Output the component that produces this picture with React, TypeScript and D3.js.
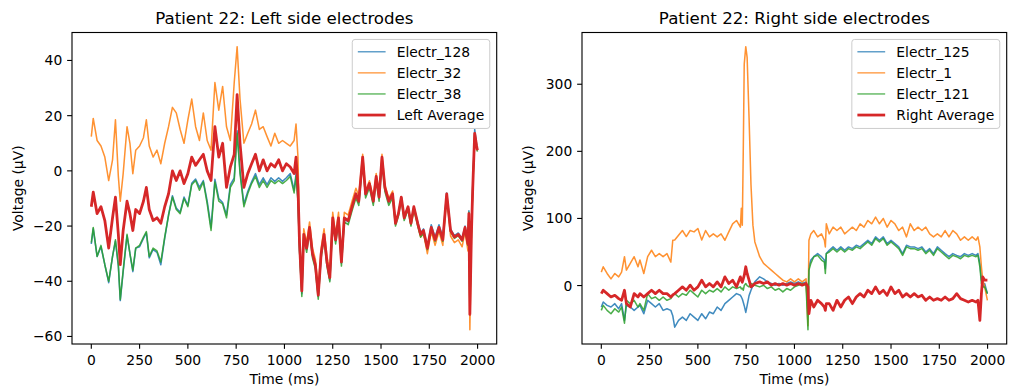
import React from "react";
import * as d3 from "d3";

// ---------------- DATA ----------------
const X_TICKS = [0, 250, 500, 750, 1000, 1250, 1500, 1750, 2000];
const LEFT_Y_TICKS = [-60, -40, -20, 0, 20, 40];
const RIGHT_Y_TICKS = [0, 100, 200, 300];

const LEFT_TIME = [
  0, 10, 30, 50, 70, 90, 110, 125, 140, 150,
  165, 185, 200, 215, 230, 250, 270, 285, 300, 320,
  340, 360, 380, 400, 420, 440, 460, 480, 500, 520,
  540, 560, 580, 600, 620, 640, 660, 680, 700, 720,
  740, 755, 770, 790, 810, 830, 850, 870, 890, 910,
  930, 950, 970, 990, 1010, 1030, 1050, 1060, 1070, 1078,
  1090, 1100, 1115, 1130, 1145, 1160, 1175, 1190, 1205, 1220,
  1235, 1250, 1265, 1280, 1295, 1310, 1330, 1350, 1370, 1385,
  1405, 1420, 1440, 1460, 1475, 1490, 1505, 1520, 1540, 1560,
  1575, 1590, 1605, 1620, 1640, 1655, 1670, 1690, 1705, 1720,
  1740, 1760, 1780, 1800, 1820, 1840, 1860, 1880, 1900, 1920,
  1935, 1950, 1955, 1960, 1968, 1975, 1985, 1995, 1999,
];

const LEFT_E128 = [
  -26.5, -21, -31, -27.5, -34, -40.5, -31, -25.5, -34.5, -47,
  -36.5, -23.5, -30, -36.5, -28, -27.5, -24.5, -22.5, -31.5, -28.5,
  -29.5, -34, -24.5, -16, -9, -13.5, -15, -9.5, -12.5, -4.5,
  -3, -6, -3.5, -11, -20.5, -3, -10, -11.5, -16, -5,
  -2.5, 14.5, 0, -12, -7.5, -4, -1, -5, -2.5, -5,
  -2.5, -3.8, -2.5, -3.8, -2.5, -1, -7, -1, -10, -28.5,
  -44.5, -23.5, -28.5, -21, -30.5, -34.5, -45.5, -30.5, -23.5, -33.5,
  -39.5, -17.5, -25.5, -17.5, -33.5, -17.5, -18.5, -13.5, -8.8, -11.5,
  4.5, -8.8, -5, -11.5, -2.5, -10, 4.5, -6.5, -11.5, -8.8,
  -19, -15.5, -9.5, -16.5, -13, -19, -13, -18.5, -22.5, -21,
  -27.5, -19.5, -24, -19.5, -24, -8, -21, -23.5, -22.5, -24.5,
  -20, -26, -14.5, -49.5, -22, -5, 15, 9.5, 8,
];

const LEFT_E32 = [
  12.4, 19, 11, 9, 5, -3.5, 4, 18.5, -2, -11,
  -1, 16, 10, -1, 7.5, 9, 12, 18.5, 9, 5,
  7.5, 2.6, 10, 16, 23, 21, 15, 10, 18.5, 26,
  16, 11, 21, 11, 7.5, 32, 22, 30.6, 16, 11,
  32, 45, 26, 10, 13.6, 17, 22, 15, 16, 12.4,
  9, 13.6, 10, 11, 10, 9, 11, 17, 5, -24,
  -41.5, -21, -26, -18.5, -28, -32, -43, -28, -21, -31,
  -36.7, -15, -23, -15, -31, -15, -16, -11, -6.3, -9,
  6, -7.3, -3.6, -10, -1, -8.5, 6, -5, -10, -7.3,
  -19, -15.5, -9.5, -17, -13, -19.5, -13.5, -19.5, -24, -22.6,
  -30, -22, -27, -22, -27, -9, -23.6, -26, -25, -27.5,
  -22, -29, -16, -57.6, -24, -6.5, 13.6, 9, 7.5,
];

const LEFT_E38 = [
  -26, -20.5, -31, -27, -34, -40, -31, -25, -34, -46.6,
  -36, -23, -30, -36, -28, -27, -24, -22, -31, -28,
  -29, -33, -24, -16, -9.5, -14, -15.5, -10, -13, -5,
  -3.5, -7, -4, -12, -21.6, -4, -11, -12, -17, -6,
  -3.5, 13.6, -1, -13, -8.3, -4.6, -2, -6, -3.5, -6,
  -3.5, -4.6, -3.5, -4.6, -3.5, -2, -8, -2, -11, -29,
  -45.5, -24.5, -29.5, -22, -31.5, -35.5, -46.5, -31.5, -24.5, -34.5,
  -40.2, -18.5, -26.5, -18.5, -34.5, -18.5, -19.5, -14.5, -9.8, -12.5,
  3.5, -9.8, -6.1, -12.5, -3.5, -11, 3.5, -7.5, -12.5, -9.8,
  -20, -16.5, -10.5, -18, -14, -20, -14, -20, -24, -22.6,
  -28.5, -21, -25.5, -21, -25.5, -9, -22, -24.5, -23.5, -25.5,
  -21, -27, -15, -50.5, -22.5, -5.5, 13, 8.5, 7,
];

const LEFT_AVG = [
  -13, -7.7, -15.5, -13, -18, -28, -17, -9.5, -23, -34,
  -21.6, -11, -15.5, -21.6, -14, -15.5, -11, -6, -14, -18,
  -17, -19, -13, -8.3, 0, -3.5, 0, -4.6, -1, 5,
  2, 4, 6, 0, -3.5, 16, 5, 10, -6, 1.4,
  6, 27.6, 10, -6, -1, 2.6, 6, 0, 4, 0,
  2.6, 1.4, 4, 0, 2.6, 1.4, -1, 5, -6, -26,
  -43.5, -23, -28, -20.5, -30, -34, -45, -30, -23, -33,
  -38.7, -17, -25, -17, -33, -17, -18, -13, -8.3, -11,
  5, -8.3, -4.6, -11, -2, -9.5, 5, -6, -11, -8.3,
  -19, -15.5, -9.5, -17, -13, -19, -13, -19, -23, -21.6,
  -28, -20.5, -25, -20.5, -25, -8.3, -21.6, -24, -23, -25,
  -20.5, -26.5, -15.5, -52, -23, -6, 13.6, 9, 7.5,
];

const RIGHT_TIME = [
  0, 10, 30, 50, 70, 90, 105, 120, 130, 150,
  170, 190, 200, 220, 240, 260, 280, 300, 320, 340,
  360, 370, 380, 400, 420, 440, 460, 480, 500, 520,
  540, 560, 580, 600, 620, 640, 660, 680, 700, 720,
  725, 730, 735, 740, 748, 755, 765, 775, 785, 795,
  820, 840, 860, 880, 900, 920, 940, 960, 980, 1000,
  1020, 1040, 1060, 1070, 1075, 1085, 1100, 1120, 1140, 1155,
  1160, 1165, 1180, 1200, 1220, 1240, 1260, 1280, 1300, 1320,
  1340, 1360, 1380, 1400, 1420, 1440, 1460, 1480, 1500, 1520,
  1540, 1560, 1580, 1600, 1620, 1640, 1660, 1680, 1700, 1720,
  1740, 1760, 1780, 1800, 1820, 1840, 1860, 1880, 1900, 1920,
  1940, 1950, 1960, 1968, 1975, 1985, 1999,
];

const RIGHT_E125 = [
  -32, -24.5, -29.5, -32, -27, -34.5, -27, -52, -29.5, -32,
  -37, -32, -29.5, -42, -22, -27, -32, -27, -37, -34.5,
  -37, -45, -62, -52, -47, -52, -42, -47, -52, -42,
  -49.5, -39.5, -42, -32, -37, -27, -22, -17, -12, -14.5,
  -17, -20, -25, -30, -40, -30, -15, -7, 0, 5.5,
  13, 10, 5.5, 3, 0.5, 3, 0.5, 3, 5.5, 3,
  5.5, 3, 5.5, -40, 28, 38, 43, 47.6, 43, 38,
  25, 47.6, 52.6, 57.6, 52.6, 57.6, 52.6, 57.6, 55, 60,
  57.6, 62.5, 67.5, 62.5, 72.5, 67.5, 72.5, 62.5, 67.5, 62.5,
  57.6, 47.6, 60, 57.6, 57.6, 55, 57.6, 50, 55, 47.6,
  57.6, 52.6, 47.6, 43, 47.6, 45, 43, 47.6, 45, 47.6,
  45, 47.6, 33, 8, -2, 3, -12,
];

const RIGHT_E1 = [
  20, 28, 18, 10, 18, 13, 20, 43, 23, 33,
  43, 28, 38, 18, 43, 52.6, 43, 47.6, 43, 47.6,
  35, 67.5, 68, 75, 82, 73, 82, 80, 85, 68,
  82, 72.5, 77, 72.5, 77, 67.5, 80, 92, 97, 87,
  115, 90, 200, 330, 356, 340, 250, 150, 90, 65,
  43, 33, 28, 23, 18, 13, 8, 5.5, 10, 5.5,
  10, 5.5, 10, -60, 67.5, 77, 82, 72.5, 77, 67.5,
  57.6, 92, 77, 87, 82, 87, 77, 82, 87, 82,
  92, 87, 97, 92, 102, 92, 100, 87, 97, 92,
  82, 87, 72.5, 92, 82, 87, 82, 87, 77, 72.5,
  77, 72.5, 82, 72.5, 82, 77, 67.5, 72.5, 67.5, 72.5,
  67.5, 72.5, 57.6, 28, 8, -2, -22,
];

const RIGHT_E121 = [
  -37, -29.5, -37, -42, -34.5, -39.5, -32, -56, -22, -27,
  -22, -32, -27, -37, -12, -19.5, -17, -22, -17, -22,
  -19.5, -15, -12, -17, -12, -14.5, -7, -12, -17, -7,
  -12, -7, -9.5, -4.5, -9.5, -2, -7, -2, -4.5, -2,
  -5, -4, -7, 0, 3, 0, -2, 3, 2, 0.5,
  -2, 0.5, -4.5, -2, -7, -4.5, -9.5, -4.5, -7, -2,
  0.5, 3, 0.5, -66, 23, 33, 43, 45, 38, 35,
  18, 47.6, 50, 55, 50, 55, 50, 55, 52.6, 57.6,
  55, 60, 65, 60, 70, 65, 70, 60, 65, 60,
  55, 45, 57.6, 55, 55, 52.6, 55, 47.6, 52.6, 45,
  55, 50, 45, 40, 45, 43, 40, 45, 43, 45,
  43, 45, 28, 3, -2, -2, -12,
];

const RIGHT_AVG = [
  -12, -7, -12, -17, -14.5, -19.5, -22, -7, -27, -32,
  -12, -17, -12, -17, -12, -7, -12, -7, -12, -12,
  -17, -14, -12, -7, -2, -7, 0.5, -7, -2, 8,
  -2, 3, -2, 5.5, -2, 13, 3, 8, -2, 13,
  8, 5, 10, 15, 28, 18, 8, -2, 0, 3,
  5.5, 3, 5.5, 0.5, 3, 0.5, 3, 0.5, 3, 0.5,
  3, 0.5, 3, -2, -42, -22, -32, -22, -27, -32,
  -37, -27, -27, -37, -22, -32, -22, -17, -27, -17,
  -12, -17, -7, -12, -2, -12, -7, -14.5, -2, -12,
  -7, -17, -12, -17, -12, -17, -14.5, -22, -17, -22,
  -19.5, -22, -17, -22, -19.5, -12, -19.5, -22, -24.5, -22,
  -24.5, -22, -52, -12, 13, 8, 8,
];

// ---------------- STYLE ----------------
const PT = 100 / 72;
const FONT = "'DejaVu Sans', 'Liberation Sans', sans-serif";
const TICK_FS = 10 * PT;
const TITLE_FS = 12 * PT;
const TOP = 32.5;
const BOTTOM = 344;
const AX_W = 424.7;

const COLORS = { blue: "#1f77b4", orange: "#ff7f0e", green: "#2ca02c", red: "#d62728" };

function measureText(text: string, size: number) {
  try {
    const ctx = document.createElement("canvas").getContext("2d");
    if (ctx) {
      ctx.font = `${size}px 'DejaVu Sans'`;
      return ctx.measureText(text).width;
    }
  } catch (e) {}
  return text.length * size * 0.6;
}

type Series = {
  values: number[];
  color: string;
  width: number;
  opacity: number;
  legendOpacity: number;
  label: string;
};

function Panel(props: {
  x0: number;
  times: number[];
  series: Series[];
  yTicks: number[];
  title: string;
}) {
  const { x0, times, series, yTicks, title } = props;
  const x1 = x0 + AX_W;
  const [tMin, tMax] = d3.extent(times) as [number, number];
  const tPad = (tMax - tMin) * 0.05;
  const x = d3.scaleLinear().domain([tMin - tPad, tMax + tPad]).range([x0, x1]);
  const all = series.flatMap((s) => s.values);
  const [vMin, vMax] = d3.extent(all) as [number, number];
  const vPad = (vMax - vMin) * 0.05;
  const y = d3.scaleLinear().domain([vMin - vPad, vMax + vPad]).range([BOTTOM, TOP]);

  const line = (vals: number[]) =>
    d3
      .line<number>()
      .x((_, i) => x(times[i]))
      .y((v) => y(v))(vals) as string;

  const tickLen = 3.5 * PT;
  const pad = 3.5 * PT;
  const fmt = (v: number) => String(v).replace("-", "\u2212");

  // legend
  const fs = TICK_FS;
  const textW = Math.max(...series.map((s) => measureText(s.label, fs)));
  const legW = 0.4 * fs + 2 * fs + 0.8 * fs + textW + 0.4 * fs;
  const legH = 89;
  const legX = x1 - 0.5 * fs - legW;
  const legY = TOP + 0.5 * fs;
  const rowStep = 21.1;
  const firstRow = legY + 12.3;

  const cx = (x0 + x1) / 2;
  const cy = (TOP + BOTTOM) / 2;

  return (
    <g>
      <defs>
        <clipPath id={`clip${x0}`}>
          <rect x={x0} y={TOP} width={AX_W} height={BOTTOM - TOP} />
        </clipPath>
      </defs>
      <g clipPath={`url(#clip${x0})`}>
        {series.map((s, i) => (
          <path
            key={i}
            d={line(s.values)}
            fill="none"
            stroke={s.color}
            strokeWidth={s.width}
            strokeOpacity={s.opacity}
            strokeLinejoin="round"
            strokeLinecap="butt"
          />
        ))}
      </g>
      {/* spines */}
      <rect x={x0} y={TOP} width={AX_W} height={BOTTOM - TOP} fill="none" stroke="#000" strokeWidth={0.8 * PT} />
      {/* x ticks */}
      {X_TICKS.map((t) => (
        <g key={t}>
          <line x1={x(t)} x2={x(t)} y1={BOTTOM} y2={BOTTOM + tickLen} stroke="#000" strokeWidth={0.8 * PT} />
          <text x={x(t)} y={365} fontSize={TICK_FS} fontFamily={FONT} textAnchor="middle" fill="#000">
            {fmt(t)}
          </text>
        </g>
      ))}
      {/* y ticks */}
      {yTicks.map((v) => (
        <g key={v}>
          <line x1={x0 - tickLen} x2={x0} y1={y(v)} y2={y(v)} stroke="#000" strokeWidth={0.8 * PT} />
          <text
            x={x0 - tickLen - pad}
            y={y(v) + 5}
            fontSize={TICK_FS}
            fontFamily={FONT}
            textAnchor="end"
            fill="#000"
          >
            {fmt(v)}
          </text>
        </g>
      ))}
      {/* labels */}
      <text x={cx} y={384} fontSize={TICK_FS} fontFamily={FONT} textAnchor="middle" fill="#000">
        Time (ms)
      </text>
      <text
        transform={`translate(${x0 - 49},${cy}) rotate(-90)`}
        fontSize={TICK_FS}
        fontFamily={FONT}
        textAnchor="middle"
        fill="#000"
      >
        Voltage (µV)
      </text>
      <text x={cx} y={24.2} fontSize={TITLE_FS} fontFamily={FONT} textAnchor="middle" fill="#000">
        {title}
      </text>
      {/* legend */}
      <rect
        x={legX}
        y={legY}
        width={legW}
        height={legH}
        rx={0.2 * fs}
        fill="#fff"
        fillOpacity={0.8}
        stroke="#cccccc"
        strokeWidth={1}
      />
      {series.map((s, i) => {
        const ry = firstRow + i * rowStep;
        const hx = legX + 0.4 * fs;
        return (
          <g key={s.label}>
            <line
              x1={hx}
              x2={hx + 2 * fs}
              y1={ry}
              y2={ry}
              stroke={s.color}
              strokeWidth={s.width}
              strokeOpacity={s.legendOpacity}
            />
            <text x={hx + 2.8 * fs} y={ry + 5} fontSize={fs} fontFamily={FONT} fill="#000">
              {s.label}
            </text>
          </g>
        );
      })}
    </g>
  );
}

export default function App() {
  const thin = 1.1 * PT;
  const thick = 2 * PT;
  const alpha = 0.85;
  const legAlpha = 0.7;
  const leftSeries: Series[] = [
    { values: LEFT_E128, color: COLORS.blue, width: thin, opacity: alpha, legendOpacity: legAlpha, label: "Electr_128" },
    { values: LEFT_E32, color: COLORS.orange, width: thin, opacity: alpha, legendOpacity: legAlpha, label: "Electr_32" },
    { values: LEFT_E38, color: COLORS.green, width: thin, opacity: alpha, legendOpacity: legAlpha, label: "Electr_38" },
    { values: LEFT_AVG, color: COLORS.red, width: thick, opacity: 1, legendOpacity: 1, label: "Left Average" },
  ];
  const rightSeries: Series[] = [
    { values: RIGHT_E125, color: COLORS.blue, width: thin, opacity: alpha, legendOpacity: legAlpha, label: "Electr_125" },
    { values: RIGHT_E1, color: COLORS.orange, width: thin, opacity: alpha, legendOpacity: legAlpha, label: "Electr_1" },
    { values: RIGHT_E121, color: COLORS.green, width: thin, opacity: alpha, legendOpacity: legAlpha, label: "Electr_121" },
    { values: RIGHT_AVG, color: COLORS.red, width: thick, opacity: 1, legendOpacity: 1, label: "Right Average" },
  ];
  return (
    <svg width={1009} height={387} style={{ position: "absolute", left: 0, top: 0, background: "#fff" }}>
      <rect x={0} y={0} width={1009} height={387} fill="#fff" />
      <Panel x0={72} times={LEFT_TIME} series={leftSeries} yTicks={LEFT_Y_TICKS} title="Patient 22: Left side electrodes" />
      <Panel x0={582} times={RIGHT_TIME} series={rightSeries} yTicks={RIGHT_Y_TICKS} title="Patient 22: Right side electrodes" />
    </svg>
  );
}
